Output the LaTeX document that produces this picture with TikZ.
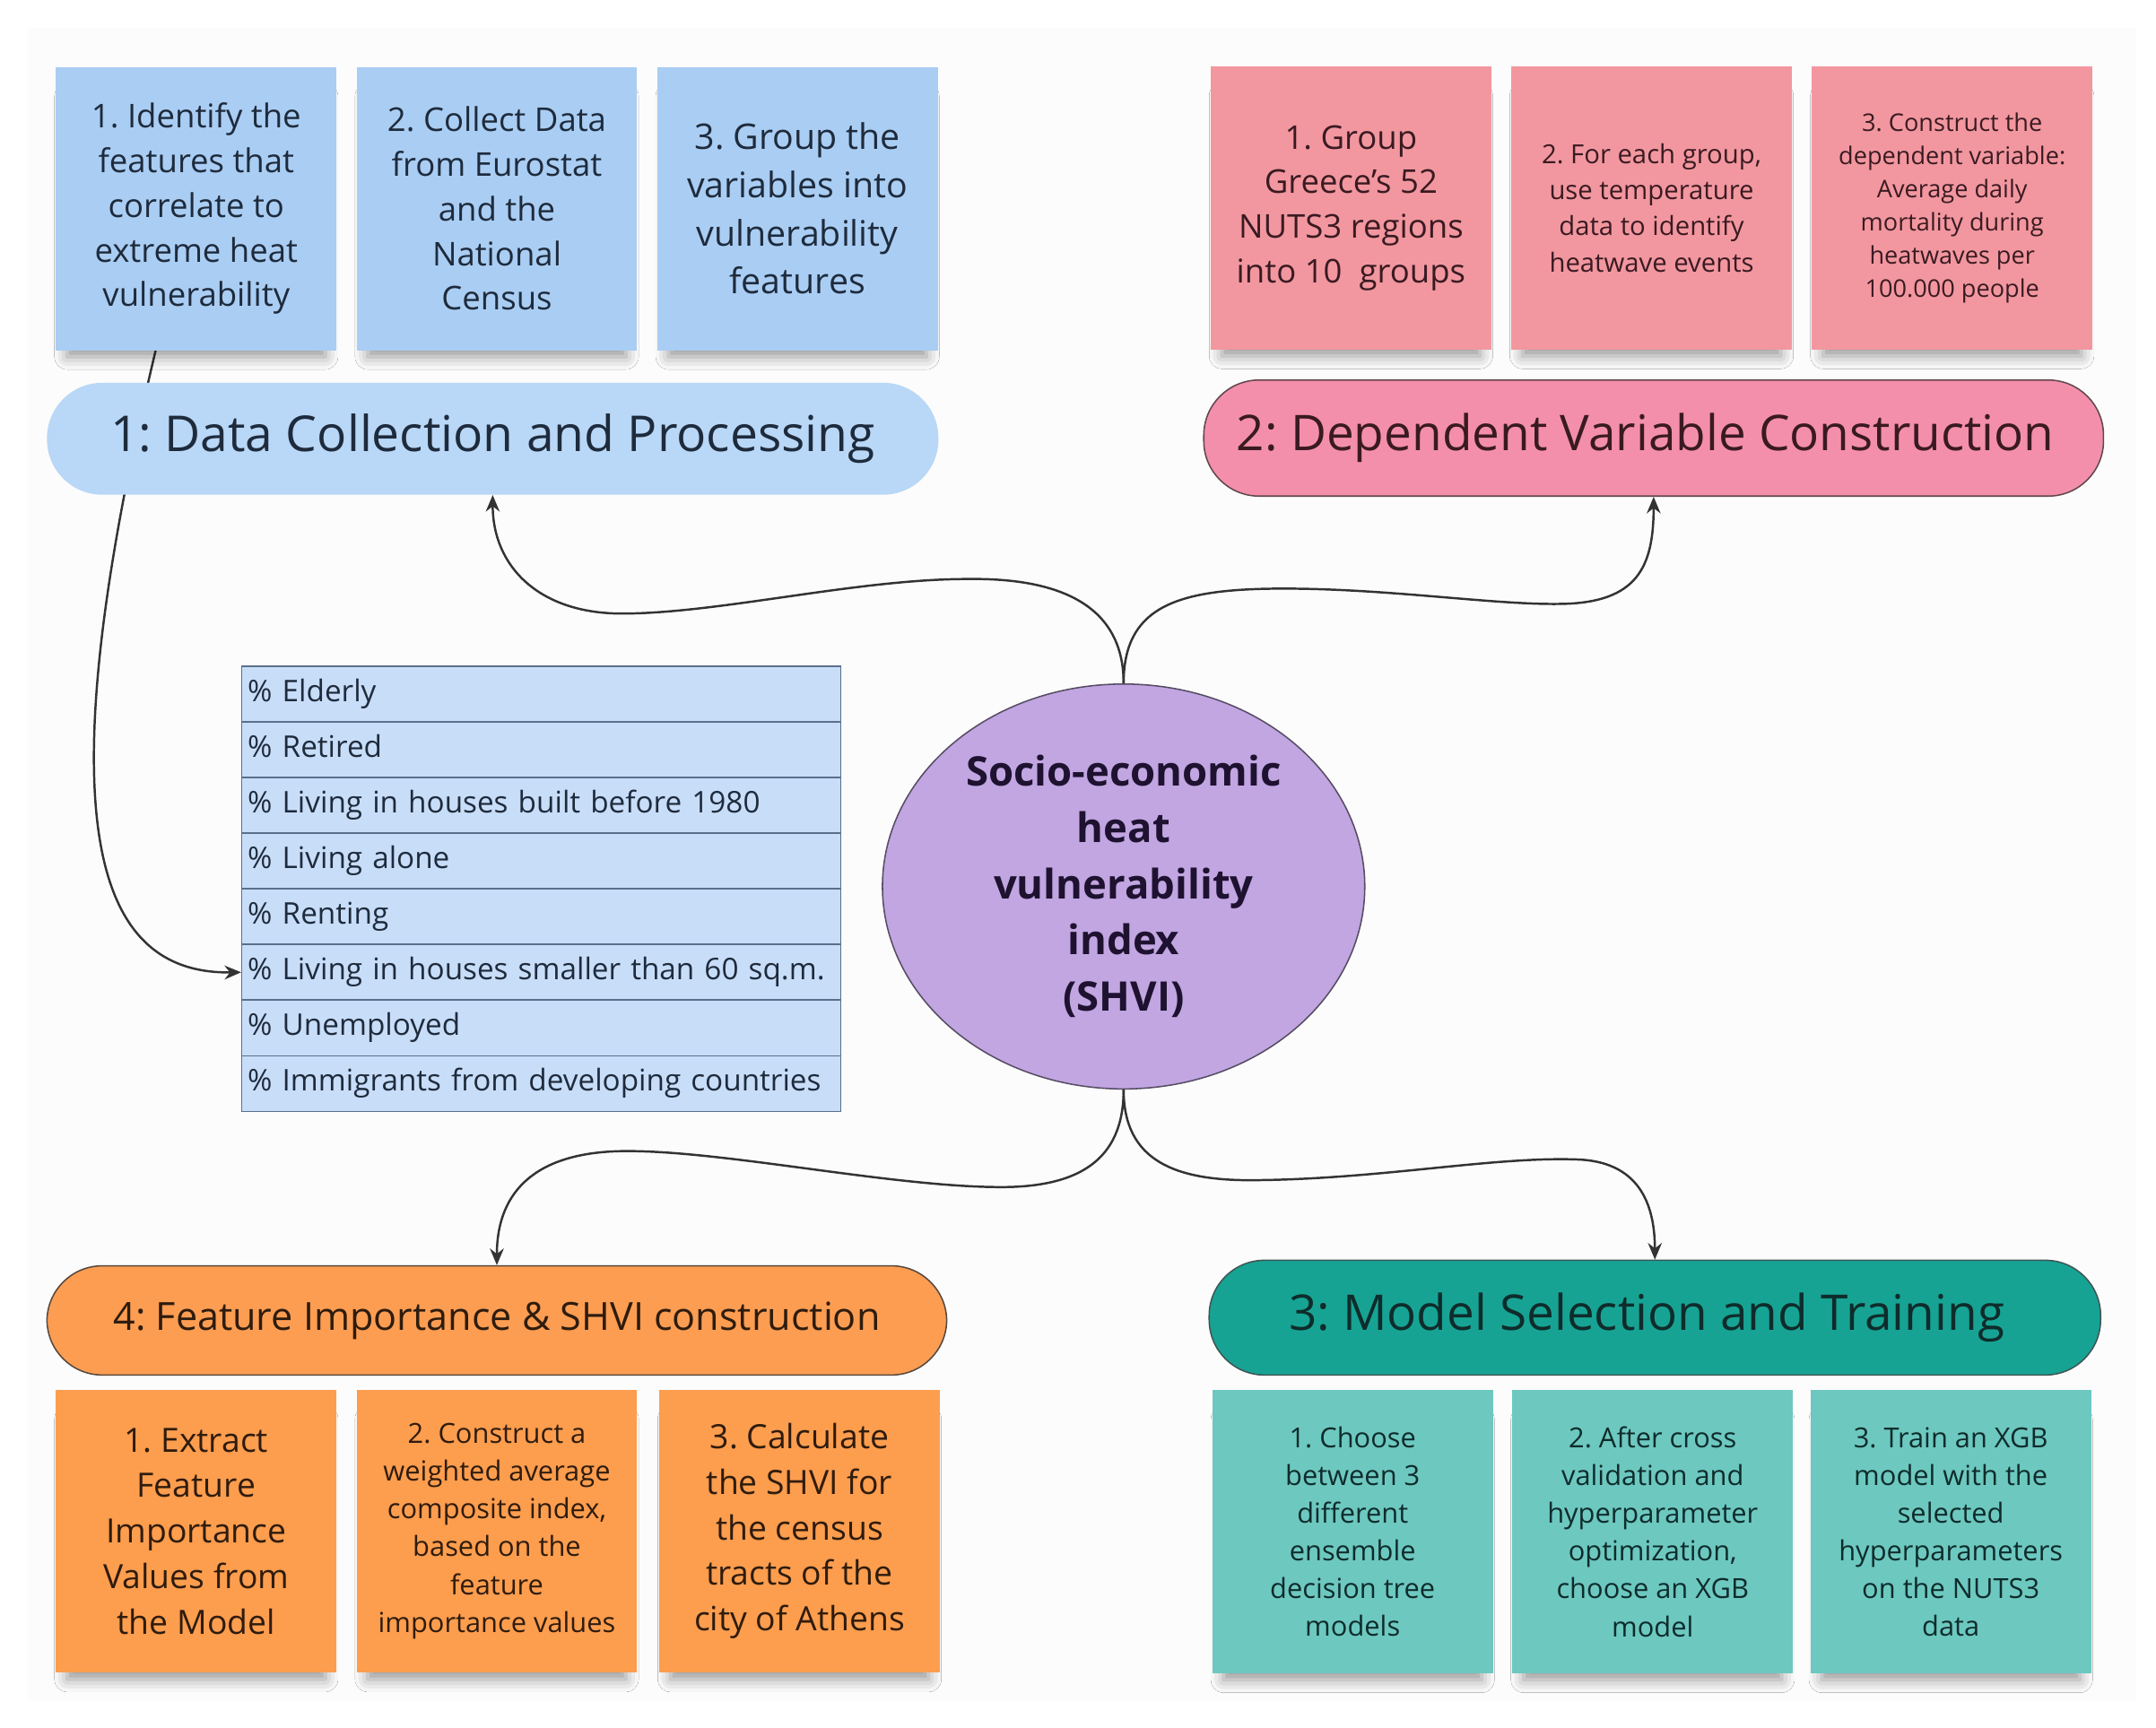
\documentclass[tikz,border=0pt]{standalone}
\usepackage{fontspec}
\setmainfont{Open Sans}
\usetikzlibrary{shadows.blur,arrows.meta,shapes.geometric,calc}
\frenchspacing
\definecolor{bluebox}{HTML}{AACDF3}
\definecolor{bluepill}{HTML}{B9D7F6}
\definecolor{bluerow}{HTML}{C8DDF8}
\definecolor{rowline}{HTML}{5A6F8C}
\definecolor{bluetxt}{HTML}{1E2B3C}
\definecolor{pinkbox}{HTML}{F2979F}
\definecolor{pinkpill}{HTML}{F48FAB}
\definecolor{pinktxt}{HTML}{3A1A22}
\definecolor{orgbox}{HTML}{FD9D4E}
\definecolor{orgpill}{HTML}{FC9D52}
\definecolor{orgtxt}{HTML}{2E1C0E}
\definecolor{tealbox}{HTML}{6DC8C0}
\definecolor{tealpill}{HTML}{17A394}
\definecolor{tealtxt}{HTML}{0E2C2B}
\definecolor{ellfill}{HTML}{C1A6E2}
\definecolor{elltxt}{HTML}{1E1230}
\definecolor{linec}{HTML}{333333}
\definecolor{framebg}{HTML}{FCFCFC}
\pgfdeclarelayer{bg}
\pgfsetlayers{bg,main}
\tikzset{
  sticky/.style={rectangle, minimum width=203pt, minimum height=205pt, inner sep=0pt, align=center,
    blur shadow={shadow xshift=0pt, shadow yshift=-14pt, shadow scale=0.92, shadow opacity=40, shadow blur radius=10pt}},
  pill/.style={rectangle, rounded corners=40pt, inner sep=0pt, align=center},
  rowbox/.style={rectangle, draw=rowline, line width=1pt, fill=bluerow, minimum width=433.5pt, minimum height=40.25pt,
    text width=425pt, inner xsep=4pt, inner ysep=0pt, text height=16pt, text depth=5pt,
    align=left, anchor=north west, text=bluetxt, font=\fontsize{21.6}{28}\selectfont},
  conn/.style={draw=linec, line width=1.6pt},
  tip/.style={-{Stealth[length=12pt,width=10pt]}},
  fA/.style={font=\fontsize{23.7}{32.3}\selectfont},
  fB/.style={font=\fontsize{25.5}{34.8}\selectfont},
  fC/.style={font=\fontsize{19}{26}\selectfont},
  fD/.style={font=\fontsize{17.6}{24}\selectfont},
  fE/.style={font=\fontsize{24.2}{32.9}\selectfont},
  fF/.style={font=\fontsize{20}{27.3}\selectfont},
}
\begin{document}
\begin{tikzpicture}[x=1pt,y=-1pt]
\useasboundingbox (0,0) rectangle (1560,1250);

% top-left group
\node[sticky, fill=bluebox, text=bluetxt, fA] (b1) at (142,151) {1. Identify the\\features that\\correlate to\\extreme heat\\vulnerability};
\node[sticky, fill=bluebox, text=bluetxt, fA] (b2) at (359.5,151) {2. Collect Data\\from Eurostat\\and the\\National\\Census};
\node[sticky, fill=bluebox, text=bluetxt, fB] (b3) at (577,151) {3. Group the\\variables into\\vulnerability\\features};
\node[pill, fill=bluepill, text=bluetxt, minimum width=645pt, minimum height=81pt, font=\fontsize{35.8}{44}\selectfont] (p1) at (356.5,317.5) {1: Data Collection and Processing};

% top-right group
\node[sticky, fill=pinkbox, text=pinktxt, fA] (k1) at (977.5,150.5) {1. Group\\Greece's 52\\NUTS3 regions\\into 10~ groups};
\node[sticky, fill=pinkbox, text=pinktxt, fC] (k2) at (1195,150.5) {2. For each group,\\use temperature\\data to identify\\heatwave events};
\node[sticky, fill=pinkbox, text=pinktxt, fD] (k3) at (1412.5,150.5) {3. Construct the\\dependent variable:\\Average daily\\mortality during\\heatwaves per\\100.000 people};
\node[pill, fill=pinkpill, draw=pinktxt!80, line width=1pt, text=pinktxt, minimum width=651pt, minimum height=84pt, font=\fontsize{35.6}{44}\selectfont] (p2) at (1196.5,317) {2: Dependent Variable Construction\hspace*{12pt}};

% bottom-left group
\node[pill, fill=orgpill, draw=orgtxt!80, line width=1pt, text=orgtxt, minimum width=651pt, minimum height=79pt, font=\fontsize{28}{36}\selectfont] (p4) at (359.5,955.5) {4: Feature Importance \& SHVI construction};
\node[sticky, fill=orgbox, text=orgtxt, fE] (o1) at (142,1108) {1. Extract\\Feature\\Importance\\Values from\\the Model};
\node[sticky, fill=orgbox, text=orgtxt, fF] (o2) at (359.5,1108) {2. Construct a\\weighted average\\composite index,\\based on the\\feature\\importance values};
\node[sticky, fill=orgbox, text=orgtxt, fE] (o3) at (578.5,1108) {3. Calculate\\the SHVI for\\the census\\tracts of the\\city of Athens};

% bottom-right group
\node[pill, fill=tealpill, draw=tealtxt!80, line width=1pt, text=tealtxt, minimum width=645pt, minimum height=83pt, font=\fontsize{35.6}{44}\selectfont] (p3) at (1197.4,953.5) {3: Model Selection and Training\hspace*{12pt}};
\node[sticky, fill=tealbox, text=tealtxt, fF] (t1) at (978.7,1108.5) {1. Choose\\between 3\\different\\ensemble\\decision tree\\models};
\node[sticky, fill=tealbox, text=tealtxt, fF] (t2) at (1195.8,1108.5) {2. After cross\\validation and\\hyperparameter\\optimization,\\choose an XGB\\model};
\node[sticky, fill=tealbox, text=tealtxt, fF] (t3) at (1411.5,1108.5) {3. Train an XGB\\model with the\\selected\\hyperparameters\\on the NUTS3\\data};

% table of variables
\node[rowbox] (r1) at (174.5,481.7) {\% Elderly};
\node[rowbox] (r2) at (174.5,521.95) {\% Retired};
\node[rowbox] (r3) at (174.5,562.2) {\% Living in houses built before 1980};
\node[rowbox] (r4) at (174.5,602.45) {\% Living alone};
\node[rowbox] (r5) at (174.5,642.7) {\% Renting};
\node[rowbox] (r6) at (174.5,682.95) {\% Living in houses smaller than 60 sq.m.};
\node[rowbox] (r7) at (174.5,723.2) {\% Unemployed};
\node[rowbox] (r8) at (174.5,763.45) {\% Immigrants from developing countries};

% central ellipse
\node[ellipse, fill=ellfill, draw=elltxt!75, line width=1pt, minimum width=349pt, minimum height=293pt, inner sep=0pt,
  align=center, text=elltxt, font=\bfseries\fontsize{29.5}{40.7}\selectfont] (E) at (813,641.5)
  {Socio-economic\\heat\\vulnerability\\index\\(SHVI)};

% background frame and the connector that runs behind the pill
\begin{pgfonlayer}{bg}
\fill[framebg] (20,20) rectangle (1546,1231);
\draw[conn, tip] ([xshift=-29.4pt]b1.south) .. controls (30,600) and (70,705) .. (r6.west);
\end{pgfonlayer}

% connectors
\draw[conn, tip] (E.north) .. controls (813,440) and (770,418) .. (700,419)
  .. controls (620,419) and (520,444) .. (450,444)
  .. controls (390,444) and (356.5,410) .. (p1.south);
\draw[conn, tip] (E.north) .. controls (813,440) and (850,427) .. (920,426)
  .. controls (1000,425) and (1080,438) .. (1130,437)
  .. controls (1185,436) and (1196.5,410) .. (p2.south);
\draw[conn, tip] (E.south) .. controls (813,840) and (780,860) .. (720,859)
  .. controls (640,858) and (520,832) .. (450,833)
  .. controls (390,834) and (359.5,860) .. (p4.north);
\draw[conn, tip] (E.south) .. controls (813,840) and (850,855) .. (910,854)
  .. controls (1000,853) and (1080,837) .. (1140,839)
  .. controls (1185,840) and (1197.4,870) .. (p3.north);
\end{tikzpicture}
\end{document}
